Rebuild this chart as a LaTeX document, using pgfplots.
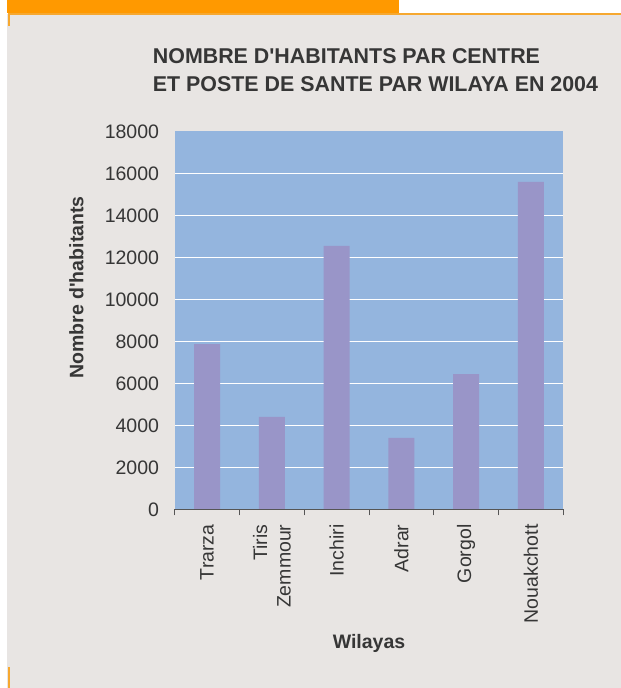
\documentclass[border=0pt]{standalone}
\usepackage{pgfplots}
\pgfplotsset{compat=1.18}
\usepackage{fontspec}
\setmainfont{Liberation Sans}
\definecolor{bggray}{HTML}{E8E5E3}
\definecolor{orangeA}{HTML}{FF9900}
\definecolor{orangeB}{HTML}{F6A830}
\definecolor{plotblue}{HTML}{94B5DE}
\definecolor{barpurple}{HTML}{9995C8}
\definecolor{txt}{HTML}{363636}
\definecolor{axisgray}{HTML}{555555}
\begin{document}
\begin{tikzpicture}[x=1pt,y=1pt]
\path[use as bounding box] (0,0) rectangle (621,688);
\fill[white] (0,0) rectangle (621,688);
\fill[bggray] (7,0) rectangle (621,674);
\fill[orangeA] (7,675) rectangle (399,688);
\draw[orangeB, line width=2pt] (8.8,662) -- (8.8,674) -- (621,674);
\draw[orangeB, line width=2pt] (8.8,0) -- (8.8,21);
\node[anchor=base west, inner sep=0pt, text=txt,
      font=\bfseries\fontsize{21.4}{28.4}\selectfont] at (152.7,624.7)
  {NOMBRE D\textquotesingle HABITANTS PAR CENTRE};
\node[anchor=base west, inner sep=0pt, text=txt,
      font=\bfseries\fontsize{21.4}{28.4}\selectfont] at (152.7,596.3)
  {ET POSTE DE SANTE PAR WILAYA EN 2004};
\begin{axis}[
  at={(174.7pt,178.7pt)}, anchor=south west,
  scale only axis, width=388.6pt, height=378pt,
  xmin=-0.5, xmax=5.5, ymin=0, ymax=18000,
  ybar, bar width=26pt,
  axis background/.style={fill=plotblue},
  axis line style={draw=none},
  xtick pos=left, ytick pos=left,
  ytick={0,2000,...,16000},
  extra y ticks={18000}, extra y tick style={grid=none},
  ymajorgrids, grid style={white, line width=1pt},
  scaled y ticks=false,
  /pgf/number format/assume math mode=true,
  /pgf/number format/1000 sep={},
  xtick={0,...,5},
  xticklabels={Trarza,{Tiris\\Zemmour},Inchiri,Adrar,Gorgol,Nouakchott},
  minor xtick={-0.5,0.5,...,5.5},
  tick align=outside, major tick length=0pt, minor tick length=6pt,
  tick style={axisgray, line width=1pt},
  every tick label/.append style={text=txt, font=\fontsize{19.5}{23.4}\selectfont},
  xticklabel style={rotate=90, anchor=east, align=right, inner sep=0pt},
  xticklabel shift=15pt,
  yticklabel style={anchor=east, inner sep=0pt},
  yticklabel shift=15.5pt,
  xlabel={Wilayas}, ylabel={Nombre d\textquotesingle habitants},
  every axis x label/.style={at={(axis description cs:0.5,-0.3537)}, anchor=center,
     font=\bfseries\fontsize{19.5}{23.4}\selectfont, text=txt},
  every axis y label/.style={at={(axis description cs:-0.2527,0.5868)}, rotate=90, anchor=center,
     font=\bfseries\fontsize{19.5}{23.4}\selectfont, text=txt},
]
\addplot[fill=barpurple, draw=none] coordinates {(0,7870) (1,4400) (2,12540) (3,3400) (4,6440) (5,15590)};
\draw[axisgray, line width=1pt] (rel axis cs:0,0) -- (rel axis cs:1,0);
\end{axis}
\end{tikzpicture}
\end{document}
